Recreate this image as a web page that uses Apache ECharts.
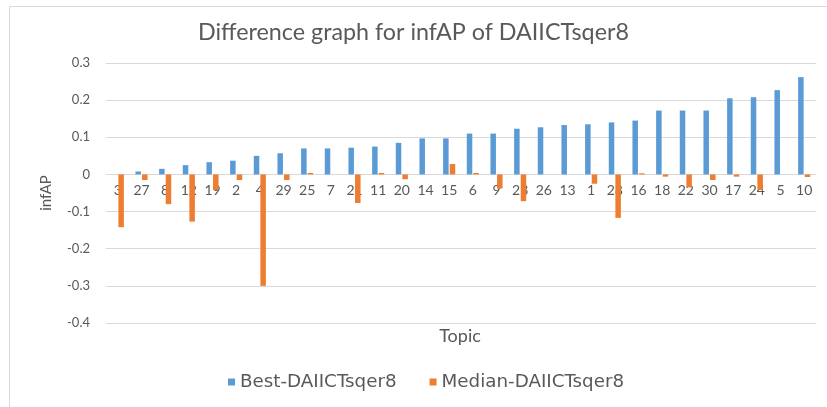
<!DOCTYPE html>
<html>
<head>
<meta charset="utf-8">
<script src="https://cdn.jsdelivr.net/npm/echarts@6/dist/echarts.min.js"></script>
<style>html,body{margin:0;padding:0;background:#fff;}#c{width:827px;height:407px;}</style>
</head>
<body>
<div id="c"></div>
<script>
const topics = ['3','27','8','12','19','2','4','29','25','7','21','11','20','14','15','6','9','23','26','13','1','28','16','18','22','30','17','24','5','10'];
const bestValues = [0, 0.008, 0.015, 0.025, 0.033, 0.037, 0.05, 0.057, 0.07, 0.07, 0.072, 0.075, 0.085, 0.097, 0.097, 0.11, 0.11, 0.123, 0.127, 0.133, 0.135, 0.14, 0.145, 0.172, 0.172, 0.172, 0.205, 0.208, 0.227, 0.262];
const medianValues = [-0.142, -0.015, -0.08, -0.127, -0.042, -0.015, -0.3, -0.015, 0.004, 0, -0.077, 0.004, -0.013, 0, 0.028, 0.004, -0.038, -0.072, 0, 0, -0.025, -0.117, 0.003, -0.006, -0.035, -0.015, -0.006, -0.042, 0, -0.007];
const yTicks = {min: -0.4, max: 0.3, step: 0.1};

const gridTop = 63, gridBottom = 84, H = 407;
const gridH = H - gridTop - gridBottom;
const zeroFromBottom = gridH * (0 - yTicks.min) / (yTicks.max - yTicks.min);

const chart = echarts.init(document.getElementById('c'));
const txt = '#595959';
chart.setOption({
  animation: false,
  title: {
    text: 'Difference graph for infAP of DAIICTsqer8',
    left: 'center', top: 16,
    textStyle: {fontFamily: 'Lato', fontSize: 23.3, fontWeight: 'normal', color: txt}
  },
  legend: {
    bottom: 11, left: 223, itemGap: 33,
    itemWidth: 7, itemHeight: 7, icon: 'rect',
    textStyle: {fontFamily: 'DejaVu Sans', fontSize: 18.3, color: txt}
  },
  grid: {left: 106, right: 11, top: gridTop, bottom: gridBottom},
  graphic: [
    {type: 'rect', shape: {x: 9.5, y: 6.5, width: 840, height: 420}, style: {fill: 'none', stroke: '#D9D9D9', lineWidth: 1}, silent: true},
    {type: 'text', x: 460, y: 327, style: {text: 'Topic', textAlign: 'center', fontFamily: 'Lato', fontSize: 18, fill: txt}}
  ],
  xAxis: {
    type: 'category', data: topics,
    offset: -zeroFromBottom,
    axisLine: {onZero: false, lineStyle: {color: '#D9D9D9'}},
    axisTick: {show: false},
    axisLabel: {interval: 0, fontFamily: 'Lato', fontSize: 14, color: txt, margin: 9}
  },
  yAxis: {
    type: 'value', min: yTicks.min, max: yTicks.max, interval: yTicks.step,
    name: 'infAP', nameLocation: 'middle', nameGap: 52,
    nameTextStyle: {fontFamily: 'Lato', fontSize: 15, color: txt},
    axisLine: {show: false}, axisTick: {show: false},
    axisLabel: {fontFamily: 'Lato', fontSize: 13, color: txt, margin: 16,
      formatter: v => String(Math.round(v * 10) / 10)},
    splitLine: {lineStyle: {color: '#D9D9D9'}}
  },
  series: [
    {name: 'Best-DAIICTsqer8', type: 'bar', data: bestValues, barWidth: 5.5, barGap: '20%', itemStyle: {color: '#5B9BD5'}},
    {name: 'Median-DAIICTsqer8', type: 'bar', data: medianValues, barWidth: 5.5, barGap: '20%', itemStyle: {color: '#ED7D31'}}
  ]
});
</script>
</body>
</html>
